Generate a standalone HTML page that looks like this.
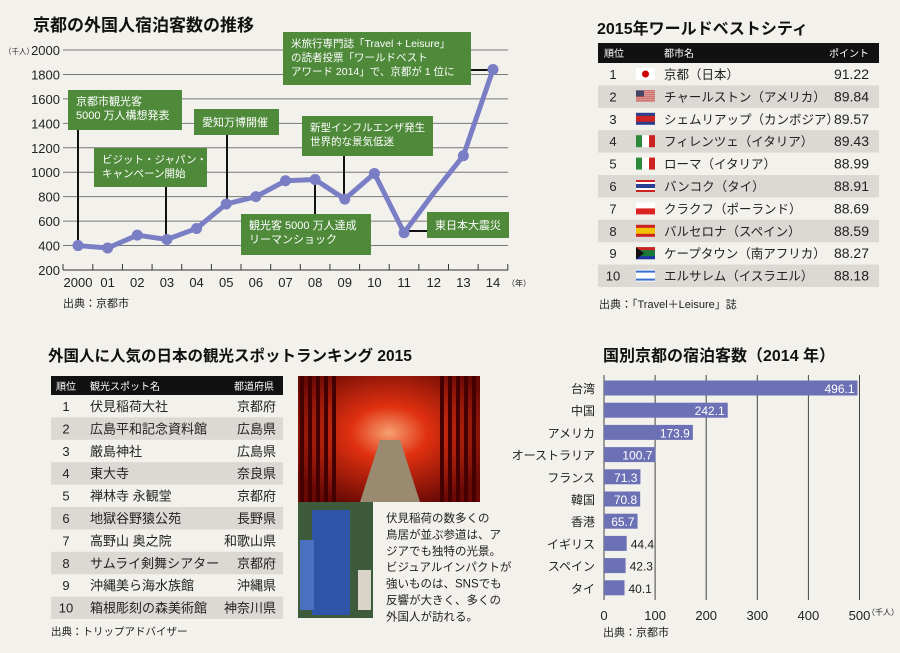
<!DOCTYPE html>
<html><head><meta charset="utf-8">
<style>
html,body{margin:0;padding:0;background:#f3f1ec;}
svg{display:block;font-family:"Liberation Sans","Noto Sans CJK JP",sans-serif;}
</style></head>
<body>
<svg id="root" width="900" height="653" viewBox="0 0 900 653" xmlns="http://www.w3.org/2000/svg">
<rect width="900" height="653" fill="#f3f1ec"/>
<g id="line-chart"></g>
<g id="city-table"></g>
<g id="spot-table"></g>
<g id="photo"></g>
<g id="bar-chart"></g>
</svg>
<script>
const NS='http://www.w3.org/2000/svg';
function mk(parent,tag,attrs,text){const e=document.createElementNS(NS,tag);for(const k in attrs)e.setAttribute(k,attrs[k]);if(text!==undefined)e.textContent=text;parent.appendChild(e);return e;}

// ===== Line chart data =====
const years=['2000','01','02','03','04','05','06','07','08','09','10','11','12','13','14'];
const guests=[400,380,485,450,540,740,800,930,940,780,990,505,830,1135,1840];
const yTicks=[200,400,600,800,1000,1200,1400,1600,1800,2000];
const markerShown=[1,1,1,1,1,1,1,1,1,1,1,1,0,1,1];

const LC=document.getElementById('line-chart');
const xL=i=>78+i*(415/14);
const yL=v=>270-(v-200)*(220/1800);
let t=mk(LC,'text',{x:33,y:31,'font-size':17,'font-weight':'bold',fill:'#111'},'京都の外国人宿泊客数の推移');

mk(LC,'text',{x:4,y:54,'font-size':7.5,fill:'#222'},'（千人）');
yTicks.forEach(v=>{
  if(v>200){const g=mk(LC,'line',{x1:63,x2:508,y1:yL(v),y2:yL(v),stroke:'#777','stroke-width':1});
  }
  const l=mk(LC,'text',{x:60,y:yL(v)+5,'font-size':13,'text-anchor':'end',fill:'#222'},String(v));
  
});
mk(LC,'line',{x1:63,x2:508,y1:270,y2:270,stroke:'#333','stroke-width':1});
mk(LC,'line',{x1:63,x2:63,y1:264,y2:270,stroke:'#333'});
years.forEach((y,i)=>{
  mk(LC,'line',{x1:xL(i)+14.8,x2:xL(i)+14.8,y1:264,y2:270,stroke:'#333'});
  const l=mk(LC,'text',{x:xL(i),y:287,'font-size':13,'text-anchor':'middle',fill:'#222'},y);
  
});
mk(LC,'text',{x:507,y:286,'font-size':8,fill:'#222'},'（年）');
mk(LC,'text',{x:63,y:307,'font-size':11,fill:'#222'},'出典：京都市');

function conn(x1,y1,x2,y2){const c=mk(LC,'line',{x1,y1,x2,y2,stroke:'#111','stroke-width':2});}
conn(78,130,78,yL(guests[0]));
conn(166,187,166,yL(guests[3]));
conn(227,135,227,yL(guests[5]));
conn(344,156,344,yL(guests[9]));
conn(315,214,315,yL(guests[8]));
conn(xL(11),231,427,231);
conn(471,70,xL(14),70);

let d='';guests.forEach((v,i)=>{d+=(i?'L':'M')+xL(i)+','+yL(v);});
const pl=mk(LC,'path',{d,fill:'none',stroke:'#7a7ec4','stroke-width':5,'stroke-linejoin':'round'});

guests.forEach((v,i)=>{if(!markerShown[i])return;const c=mk(LC,'circle',{cx:xL(i),cy:yL(v),r:5.5,fill:'#7a7ec4'});
});

function box(x,y,w,h,lines,name,fs){fs=fs||11;const g=mk(LC,'g',{});
  mk(g,'rect',{x,y,width:w,height:h,fill:'#4e8a3a'});
  lines.forEach((s,i)=>mk(g,'text',{x:x+8,y:y+(lines.length===1?h/2+4:15+i*14),'font-size':fs,fill:'#fff'},s));}
box(68,90,114,40,['京都市観光客','5000 万人構想発表'],'annotation-2000');
box(94,148,113,39,['ビジット・ジャパン・','キャンペーン開始'],'annotation-2003',10.5);
box(194,109,85,26,['愛知万博開催'],'annotation-2005');
box(302,116,131,40,['新型インフルエンザ発生','世界的な景気低迷'],'annotation-2009',10.5);
box(241,214,130,41,['観光客 5000 万人達成','リーマンショック'],'annotation-2008');
box(427,212,82,26,['東日本大震災'],'annotation-2011');
box(283,32,188,53,['米旅行専門誌「Travel + Leisure」','の読者投票「ワールドベスト','アワード 2014」で、京都が 1 位に'],'annotation-2014',10.5);

// ===== City table =====
const CT=document.getElementById('city-table');
const cities=['京都（日本）','チャールストン（アメリカ）','シェムリアップ（カンボジア）','フィレンツェ（イタリア）','ローマ（イタリア）','バンコク（タイ）','クラクフ（ポーランド）','バルセロナ（スペイン）','ケープタウン（南アフリカ）','エルサレム（イスラエル）'];
const points=['91.22','89.84','89.57','89.43','88.99','88.91','88.69','88.59','88.27','88.18'];
mk(CT,'text',{x:597,y:34,'font-size':16,'font-weight':'bold',fill:'#111'},'2015年ワールドベストシティ');
mk(CT,'rect',{x:598,y:43,width:281,height:20,fill:'#111'});
mk(CT,'text',{x:604,y:57,'font-size':10,fill:'#fff'},'順位');
mk(CT,'text',{x:664,y:57,'font-size':10,fill:'#fff'},'都市名');
mk(CT,'text',{x:869,y:57,'font-size':10,fill:'#fff','text-anchor':'end'},'ポイント');
const flagFns=[
 (g,x,y)=>{mk(g,'rect',{x,y,width:19,height:12,fill:'#fff'});mk(g,'circle',{cx:x+9.5,cy:y+6,r:3.5,fill:'#c00'});},
 (g,x,y)=>{for(let k=0;k<6;k++)mk(g,'rect',{x,y:y+k*2,width:19,height:1,fill:'#c33'});mk(g,'rect',{x,y,width:8,height:6,fill:'#446'});},
 (g,x,y)=>{mk(g,'rect',{x,y,width:19,height:12,fill:'#2a3f8f'});mk(g,'rect',{x,y:y+3,width:19,height:6,fill:'#c22'});},
 (g,x,y)=>{mk(g,'rect',{x,y,width:6,height:12,fill:'#2a8a3a'});mk(g,'rect',{x:x+6,y,width:7,height:12,fill:'#fff'});mk(g,'rect',{x:x+13,y,width:6,height:12,fill:'#c22'});},
 (g,x,y)=>{mk(g,'rect',{x,y,width:6,height:12,fill:'#2a8a3a'});mk(g,'rect',{x:x+6,y,width:7,height:12,fill:'#fff'});mk(g,'rect',{x:x+13,y,width:6,height:12,fill:'#c22'});},
 (g,x,y)=>{mk(g,'rect',{x,y,width:19,height:12,fill:'#c22'});mk(g,'rect',{x,y:y+2,width:19,height:8,fill:'#fff'});mk(g,'rect',{x,y:y+4,width:19,height:4,fill:'#2a3f8f'});},
 (g,x,y)=>{mk(g,'rect',{x,y,width:19,height:6,fill:'#fff'});mk(g,'rect',{x,y:y+6,width:19,height:6,fill:'#d22'});},
 (g,x,y)=>{mk(g,'rect',{x,y,width:19,height:12,fill:'#c22'});mk(g,'rect',{x,y:y+3,width:19,height:6,fill:'#f2c200'});},
 (g,x,y)=>{mk(g,'rect',{x,y,width:19,height:12,fill:'#1a7a3a'});mk(g,'rect',{x,y,width:19,height:3,fill:'#c22'});mk(g,'rect',{x,y:y+9,width:19,height:3,fill:'#23a'});mk(g,'polygon',{points:`${x},${y} ${x+8},${y+6} ${x},${y+12}`,fill:'#111'});},
 (g,x,y)=>{mk(g,'rect',{x,y,width:19,height:12,fill:'#fff'});mk(g,'rect',{x,y:y+1,width:19,height:2,fill:'#3a6fd0'});mk(g,'rect',{x,y:y+9,width:19,height:2,fill:'#3a6fd0'});}
];
cities.forEach((c,i)=>{
  const y0=63+i*22.4;
  const g=mk(CT,'g',{});
  if(i%2===1)mk(g,'rect',{x:598,y:y0,width:281,height:22.4,fill:'#dcd8d3'});
  mk(g,'text',{x:613,y:y0+16,'font-size':13,'text-anchor':'middle',fill:'#222'},String(i+1));
  flagFns[i](g,636,y0+5);
  mk(g,'text',{x:664,y:y0+16,'font-size':12.5,fill:'#222'},c);
  mk(g,'text',{x:869,y:y0+16,'font-size':14,'text-anchor':'end',fill:'#222'},points[i]);
});
mk(CT,'text',{x:599,y:308,'font-size':11,fill:'#222'},'出典：「Travel＋Leisure」誌');

// ===== Spot table =====
const ST=document.getElementById('spot-table');
const spots=['伏見稲荷大社','広島平和記念資料館','厳島神社','東大寺','禅林寺 永観堂','地獄谷野猿公苑','高野山 奥之院','サムライ剣舞シアター','沖縄美ら海水族館','箱根彫刻の森美術館'];
const prefs=['京都府','広島県','広島県','奈良県','京都府','長野県','和歌山県','京都府','沖縄県','神奈川県'];
mk(ST,'text',{x:48,y:361,'font-size':15.5,'font-weight':'bold',fill:'#111'},'外国人に人気の日本の観光スポットランキング 2015');
mk(ST,'rect',{x:51,y:376,width:232,height:19,fill:'#111'});
mk(ST,'text',{x:56,y:390,'font-size':10,fill:'#fff'},'順位');
mk(ST,'text',{x:90,y:390,'font-size':10,fill:'#fff'},'観光スポット名');
mk(ST,'text',{x:274,y:390,'font-size':10,fill:'#fff','text-anchor':'end'},'都道府県');
spots.forEach((s,i)=>{
  const y0=395+i*22.4;
  const g=mk(ST,'g',{});
  if(i%2===1)mk(g,'rect',{x:51,y:y0,width:232,height:22.4,fill:'#dcd8d3'});
  mk(g,'text',{x:66,y:y0+16,'font-size':13,'text-anchor':'middle',fill:'#222'},String(i+1));
  mk(g,'text',{x:90,y:y0+16,'font-size':13,fill:'#222'},s);
  mk(g,'text',{x:276,y:y0+16,'font-size':13,'text-anchor':'end',fill:'#222'},prefs[i]);
});
mk(ST,'text',{x:51,y:635,'font-size':10.5,fill:'#222'},'出典：トリップアドバイザー');

// ===== Photo =====
const PH=document.getElementById('photo');
const defs=mk(PH,'defs',{});
const lg=mk(defs,'radialGradient',{id:'tun',cx:'0.5',cy:'0.45',r:'0.6'});
mk(lg,'stop',{offset:'0','stop-color':'#f6a070'});mk(lg,'stop',{offset:'0.35','stop-color':'#e03010'});mk(lg,'stop',{offset:'1','stop-color':'#6a0a05'});
mk(PH,'rect',{x:298,y:376,width:182,height:126,fill:'url(#tun)'});
mk(PH,'polygon',{points:'360,502 420,502 400,440 380,440',fill:'#9a8a70'});
for(let k=0;k<5;k++){mk(PH,'rect',{x:300+k*8,y:376,width:4,height:126,fill:'#400'});mk(PH,'rect',{x:472-k*8,y:376,width:4,height:126,fill:'#400'});}
mk(PH,'rect',{x:298,y:502,width:75,height:116,fill:'#3d5a3a'});
mk(PH,'rect',{x:312,y:510,width:38,height:105,fill:'#2f55a8'});
mk(PH,'rect',{x:300,y:540,width:14,height:70,fill:'#4a70c0'});
mk(PH,'rect',{x:358,y:570,width:13,height:40,fill:'#d8d4c8'});
const cap=['伏見稲荷の数多くの','鳥居が並ぶ参道は、ア','ジアでも独特の光景。','ビジュアルインパクトが','強いものは、SNSでも','反響が大きく、多くの','外国人が訪れる。'];
cap.forEach((s,i)=>{const l=mk(PH,'text',{x:386,y:522+i*16.4,'font-size':11.5,fill:'#222'},s);});

// ===== Bar chart =====
const countries=['台湾','中国','アメリカ','オーストラリア','フランス','韓国','香港','イギリス','スペイン','タイ'];
const stays=[496.1,242.1,173.9,100.7,71.3,70.8,65.7,44.4,42.3,40.1];
const xTicks=[0,100,200,300,400,500];
const BC=document.getElementById('bar-chart');
const xB=v=>604+v*0.511;
const yB=i=>388+i*22.2;
mk(BC,'text',{x:603,y:361,'font-size':16,'font-weight':'bold',fill:'#111'},'国別京都の宿泊客数（2014 年）');
xTicks.forEach(v=>{
  const g=mk(BC,'line',{x1:xB(v),x2:xB(v),y1:375,y2:600,stroke:'#444','stroke-width':1});
  const l=mk(BC,'text',{x:xB(v),y:620,'font-size':13,'text-anchor':'middle',fill:'#222'},String(v));
});
mk(BC,'text',{x:867,y:615,'font-size':8,fill:'#222'},'（千人）');
mk(BC,'text',{x:603,y:636,'font-size':11,fill:'#222'},'出典：京都市');
countries.forEach((c,i)=>{
  const cy=yB(i);
  const r=mk(BC,'rect',{x:xB(0),y:cy-7.5,width:xB(stays[i])-xB(0),height:15,fill:'#6c70b4'});
  
  const l=mk(BC,'text',{x:595,y:cy+5,'font-size':12,'text-anchor':'end',fill:'#222'},c);
  
  const inside=stays[i]>=50;
  const v=mk(BC,'text',{x:inside?xB(stays[i])-3:xB(stays[i])+4,y:cy+5,'font-size':12,'text-anchor':inside?'end':'start',fill:inside?'#fff':'#222'},stays[i].toFixed(1));
  
});
</script>
</body></html>
